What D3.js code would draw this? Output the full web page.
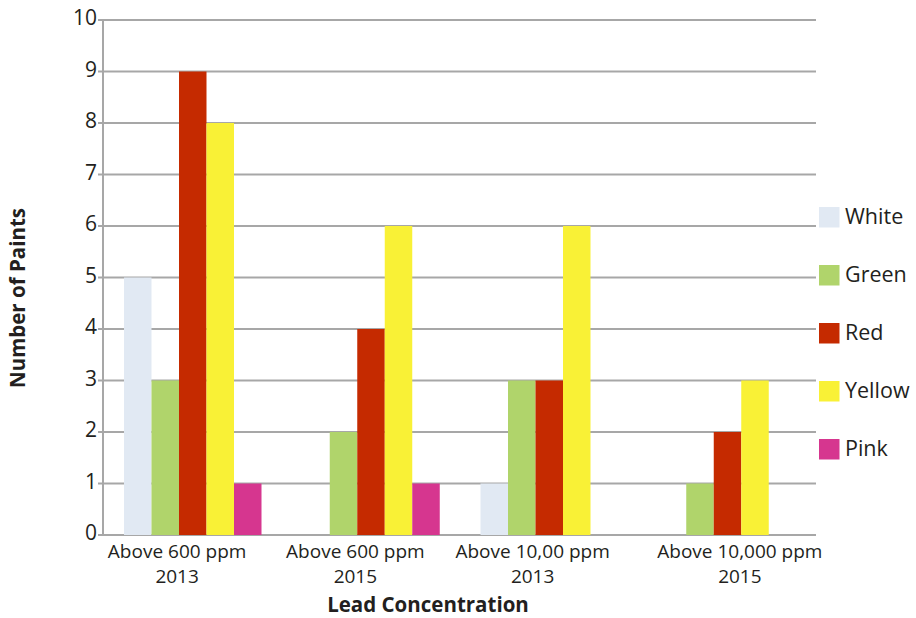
<!DOCTYPE html>
<html><head><meta charset="utf-8">
<script src="https://cdn.jsdelivr.net/npm/d3@7"></script>
<style>body{margin:0;background:#fff}svg{display:block}text{font-family:"Open Sans",sans-serif;fill:#231f20}</style>
</head><body><svg id="c" width="916" height="618"></svg>
<script>
const categories = [["Above 600 ppm","2013"],["Above 600 ppm","2015"],["Above 10,00 ppm","2013"],["Above 10,000 ppm","2015"]];
const seriesNames = ["White","Green","Red","Yellow","Pink"];
const seriesColors = ["#e1e9f3","#b0d46b","#c52a00","#f9f136","#d6368f"];
const white = [5,0,1,0];
const green = [3,2,3,1];
const red = [9,4,3,2];
const yellow = [8,6,6,3];
const pink = [1,1,0,0];
const yTicks = [0,1,2,3,4,5,6,7,8,9,10];
const values = [white,green,red,yellow,pink];

(function(){
const svg = d3.select("#c");
const mLeft = 103, mRight = 816, mTop = 20, mBottom = 535;
const catIdx = d3.range(categories.length);
const x0 = d3.scaleBand().domain(catIdx).range([mLeft, mRight]).padding(0);
const x1 = d3.scaleBand().domain(seriesNames).range([21, 21 + 27.5*5]).padding(0);
const y = d3.scaleLinear().domain([0,10]).range([mBottom, mTop]);
const labelShift = [-15,-15,-16,13];

svg.append("g").selectAll("line").data(yTicks).join("line")
  .attr("x1", mLeft - 5).attr("x2", mRight)
  .attr("y1", d => y(d)).attr("y2", d => y(d))
  .attr("stroke", "#a7a7a7").attr("stroke-width", 2);
svg.append("line").attr("x1", mLeft).attr("x2", mLeft).attr("y1", mTop).attr("y2", mBottom)
  .attr("stroke", "#a7a7a7").attr("stroke-width", 2);
svg.append("g").selectAll("text").data(yTicks).join("text")
  .attr("x", mLeft - 6).attr("y", d => y(d) + 5)
  .attr("text-anchor", "end").attr("font-size", 21).text(d => d);

const g = svg.append("g");
catIdx.forEach(ci => {
  seriesNames.forEach((s, si) => {
    const v = values[si][ci];
    if (v > 0) {
      g.append("rect")
        .attr("x", x0(ci) + x1(s)).attr("width", x1.bandwidth())
        .attr("y", y(v)).attr("height", y(0) - y(v))
        .attr("fill", seriesColors[si]);
    }
  });
});

const xl = svg.append("g").selectAll("text").data(catIdx).join("text")
  .attr("text-anchor", "middle").attr("font-size", 19);
xl.append("tspan").attr("x", d => x0(d) + x0.bandwidth()/2 + labelShift[d]).attr("y", 558).text(d => categories[d][0]);
xl.append("tspan").attr("x", d => x0(d) + x0.bandwidth()/2 + labelShift[d]).attr("y", 583).text(d => categories[d][1]);

svg.append("text").attr("x", 428).attr("y", 612).attr("text-anchor", "middle")
  .attr("font-size", 20.5).attr("font-weight", "bold").text("Lead Concentration");
svg.append("text").attr("transform", "translate(25,298) rotate(-90)").attr("text-anchor", "middle")
  .attr("font-size", 20.5).attr("font-weight", "bold").text("Number of Paints");

const lg = svg.append("g").selectAll("g").data(seriesNames).join("g")
  .attr("transform", (d, i) => `translate(819,${207 + i*58})`);
lg.append("rect").attr("width", 20.5).attr("height", 20.5).attr("fill", (d, i) => seriesColors[i]);
lg.append("text").attr("x", 26).attr("y", 17).attr("font-size", 21.5).text(d => d);
})();
</script></body></html>
